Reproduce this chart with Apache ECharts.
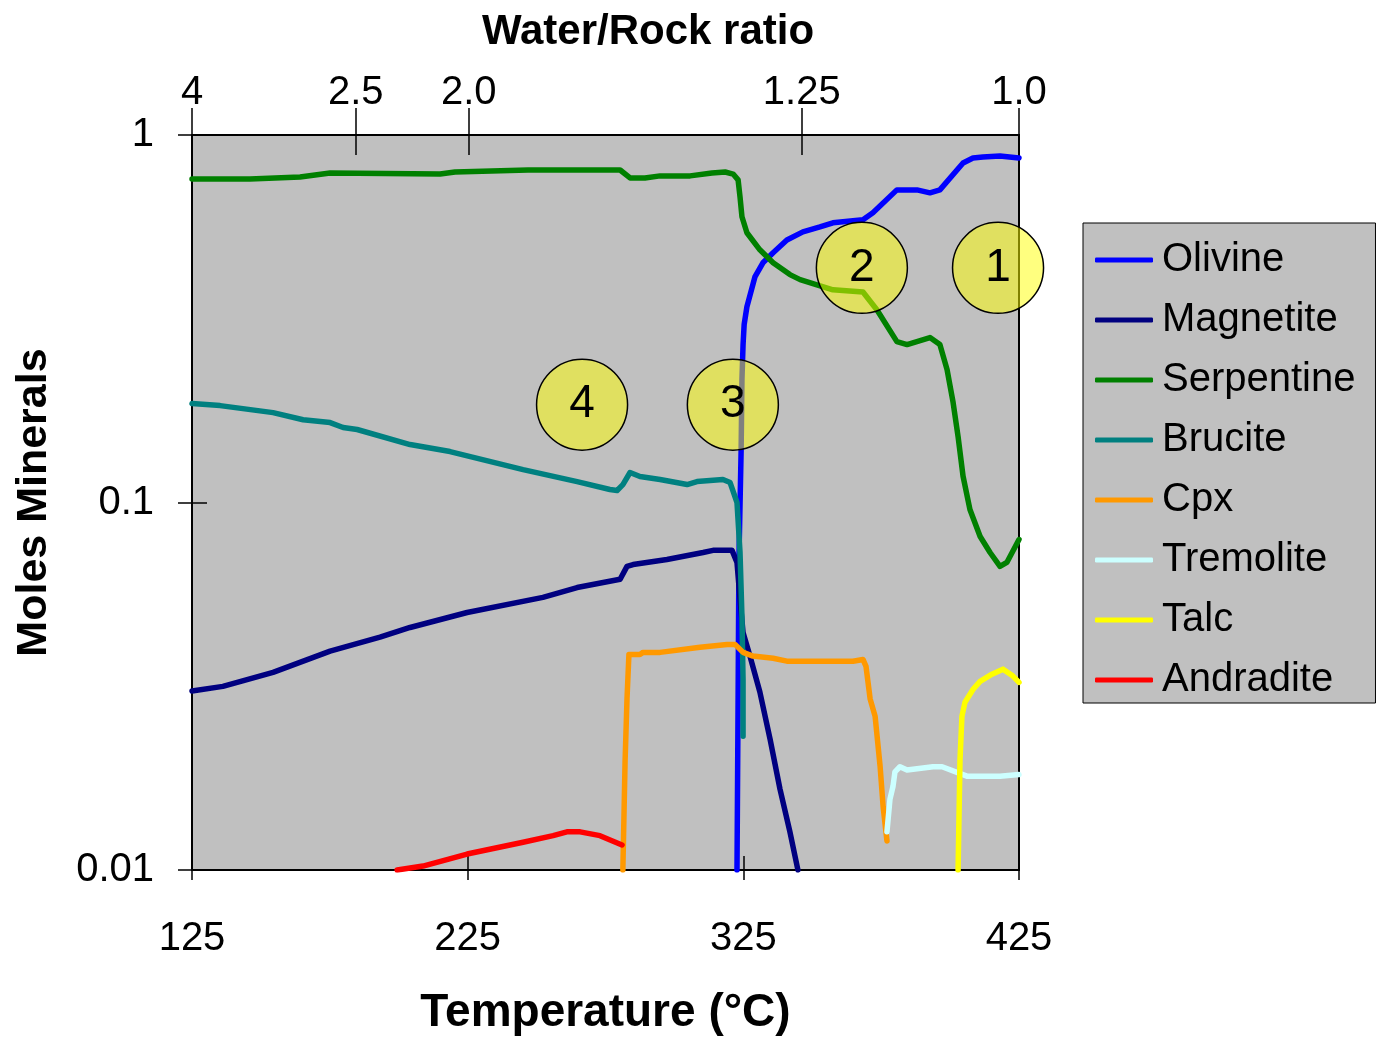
<!DOCTYPE html>
<html>
<head>
<meta charset="utf-8">
<title>Moles Minerals vs Temperature</title>
<script src="https://cdn.jsdelivr.net/npm/echarts@6/dist/echarts.min.js"></script>
<style>
  html, body { margin: 0; padding: 0; background: #ffffff; }
  #chart { width: 1379px; height: 1041px; }
</style>
</head>
<body>
<div id="chart"></div>
<script>
// Mineral abundances (moles) as [temperature °C, moles] pairs
const olivine = [
  [322.7, 0.01], [323.1, 0.0292], [323.4, 0.070], [324.2, 0.139], [324.5, 0.216],
  [324.9, 0.269], [325.3, 0.305], [326.3, 0.341], [329.2, 0.411], [332.1, 0.449],
  [335.8, 0.478], [340.8, 0.518], [346.6, 0.545], [352.8, 0.562], [357.5, 0.577],
  [368.4, 0.588], [372.0, 0.614], [380.7, 0.709], [388.0, 0.709], [392.7, 0.696],
  [396.3, 0.709], [404.7, 0.839], [408.3, 0.866], [411.9, 0.871], [418.1, 0.877],
  [425.0, 0.866]
];
const magnetite = [
  [125.0, 0.0307], [136.2, 0.0316], [154.4, 0.0345], [175.1, 0.0394], [193.2, 0.0430],
  [204.1, 0.0457], [224.8, 0.0502], [252.3, 0.0552], [264.7, 0.0587], [280.3, 0.0618],
  [282.8, 0.0670], [285.0, 0.0678], [297.3, 0.0700], [310.4, 0.0731], [314.0, 0.0741],
  [320.9, 0.0741], [322.7, 0.0687], [323.8, 0.0545], [324.9, 0.0443], [327.4, 0.0382],
  [331.0, 0.0305], [334.7, 0.0227], [338.3, 0.0166], [341.9, 0.0127], [344.8, 0.01]
];
const serpentine = [
  [125.0, 0.759], [146.0, 0.759], [164.2, 0.769], [175.1, 0.788], [215.0, 0.783],
  [220.4, 0.793], [246.9, 0.803], [280.3, 0.803], [283.9, 0.764], [289.3, 0.764],
  [294.8, 0.774], [305.7, 0.774], [313.6, 0.788], [318.4, 0.793], [321.3, 0.783],
  [323.1, 0.755], [323.8, 0.678], [324.5, 0.599], [326.3, 0.542], [331.0, 0.487],
  [335.8, 0.449], [341.9, 0.417], [345.6, 0.404], [357.5, 0.379], [368.4, 0.374],
  [373.5, 0.334], [380.7, 0.274], [384.4, 0.269], [392.7, 0.281], [396.3, 0.269],
  [398.9, 0.230], [401.1, 0.187], [402.9, 0.151], [404.7, 0.118], [407.2, 0.0957],
  [410.9, 0.0808], [414.5, 0.0731], [418.1, 0.0670], [420.6, 0.0687], [425.0, 0.0793]
];
const brucite = [
  [125.0, 0.186], [135.2, 0.1835], [154.4, 0.1756], [165.3, 0.168], [175.1, 0.165],
  [179.8, 0.160], [184.9, 0.158], [204.1, 0.1438], [218.6, 0.1376], [245.1, 0.1229],
  [264.7, 0.1140], [276.6, 0.1085], [279.2, 0.1078], [281.3, 0.1119], [283.9, 0.1207],
  [287.5, 0.1177], [294.8, 0.1155], [304.6, 0.1119], [308.2, 0.1140], [317.6, 0.1155],
  [320.2, 0.1133], [322.7, 0.100], [323.8, 0.0731], [324.5, 0.0490], [324.9, 0.0330],
  [324.9, 0.0231]
];
const cpx = [
  [281.3, 0.01], [282.1, 0.0197], [282.8, 0.0292], [283.5, 0.0386], [287.5, 0.0386],
  [288.6, 0.0391], [294.8, 0.0391], [309.3, 0.0404], [319.1, 0.0411], [322.0, 0.0411],
  [324.9, 0.0391], [328.5, 0.0382], [335.8, 0.0377], [340.8, 0.0370], [364.8, 0.0370],
  [368.4, 0.0374], [369.5, 0.0358], [371.0, 0.0292], [372.8, 0.0262], [374.6, 0.0192],
  [375.7, 0.0149], [377.1, 0.0120]
];
const tremolite = [
  [377.1, 0.0127], [378.2, 0.0156], [379.3, 0.0169], [380.0, 0.0185], [381.8, 0.0191],
  [384.4, 0.0187], [393.8, 0.0191], [397.1, 0.0191], [406.1, 0.0180], [418.1, 0.0180],
  [425.0, 0.0182]
];
const talc = [
  [402.9, 0.01], [403.6, 0.0200], [404.3, 0.0262], [405.4, 0.0286], [408.3, 0.0310],
  [410.9, 0.0326], [415.2, 0.0341], [419.2, 0.0352], [422.8, 0.0337], [425.0, 0.0324]
];
const andradite = [
  [199.4, 0.01], [208.8, 0.01025], [224.8, 0.01105], [245.1, 0.0119], [256.0, 0.0124],
  [261.0, 0.0127], [265.8, 0.0127], [273.0, 0.0124], [281.0, 0.0117]
];

// Mineral names, in legend order, and their line colours
const mineralNames = ['Olivine', 'Magnetite', 'Serpentine', 'Brucite', 'Cpx', 'Tremolite', 'Talc', 'Andradite'];
const mineralColors = ['#0000FF', '#000080', '#008000', '#008080', '#FF9900', '#CCFFFF', '#FFFF00', '#FF0000'];
const mineralData = [olivine, magnetite, serpentine, brucite, cpx, tremolite, talc, andradite];

// Temperature axis ticks
const tempTicks = [125, 225, 325, 425];
// Water/Rock ratio ticks on the upper axis, placed at their temperatures
const ratioLabels = ['4', '2.5', '2.0', '1.25', '1.0'];
const ratioTemps = [125, 184.4, 225.4, 346.2, 425];

// Numbered stage markers
const stageLabels = ['1', '2', '3', '4'];
const stageTemps = [417.4, 368.0, 321.2, 266.5];
const stageMoles = [0.435, 0.435, 0.1846, 0.1846];

const FONT = '"Liberation Sans", Arial, Helvetica, sans-serif';

const chart = echarts.init(document.getElementById('chart'), null, { renderer: 'canvas' });

const lineSeries = mineralNames.map((name, i) => ({
  name: name,
  type: 'line',
  xAxisIndex: 0,
  yAxisIndex: 0,
  data: mineralData[i],
  showSymbol: false,
  symbol: 'none',
  smooth: false,
  clip: true,
  lineStyle: { color: mineralColors[i], width: 5.5, cap: 'round', join: 'round' },
  itemStyle: { color: mineralColors[i] },
  emphasis: { disabled: true },
  z: 2
}));

const stageSeries = {
  name: 'stages',
  type: 'scatter',
  xAxisIndex: 0,
  yAxisIndex: 0,
  symbol: 'circle',
  symbolSize: 91,
  data: stageLabels.map((lab, i) => ({ name: lab, value: [stageTemps[i], stageMoles[i]] })),
  itemStyle: { color: 'rgba(255,255,0,0.5)', borderColor: '#000000', borderWidth: 1.5, opacity: 1 },
  label: {
    show: true, position: 'inside', formatter: p => p.name,
    fontFamily: FONT, fontSize: 46, color: '#000000'
  },
  emphasis: { disabled: true },
  z: 5
};

const option = {
  backgroundColor: '#ffffff',
  animation: false,
  title: {
    text: 'Water/Rock ratio',
    left: 643, top: 6, textAlign: 'center',
    textStyle: { fontFamily: FONT, fontSize: 42, fontWeight: 'bold', color: '#000000' }
  },
  grid: {
    left: 192, top: 135, right: 360, bottom: 170,
    show: true, backgroundColor: '#C0C0C0', borderColor: '#000000', borderWidth: 2
  },
  legend: {
    data: mineralNames.map(n => ({ name: n, icon: 'roundRect' })),
    orient: 'vertical',
    left: 1083, top: 223,
    padding: [17, 20, 3, 12],
    itemGap: 20,
    itemWidth: 58, itemHeight: 5,
    backgroundColor: '#C0C0C0',
    borderColor: '#000000', borderWidth: 1,
    borderRadius: 0,
    selectedMode: false,
    textStyle: { fontFamily: FONT, fontSize: 40, color: '#000000', lineHeight: 40, padding: [0, 0, 0, 4] }
  },
  xAxis: [
    {
      type: 'value', position: 'bottom', min: 125, max: 425,
      name: 'Temperature (°C)', nameLocation: 'middle', nameGap: 120,
      nameTextStyle: { fontFamily: FONT, fontSize: 46, fontWeight: 'bold', color: '#000000' },
      axisLine: { show: true, onZero: false, lineStyle: { color: '#000000', width: 2 } },
      axisTick: { show: true, inside: false, length: 10, customValues: tempTicks, lineStyle: { color: '#000000', width: 1.5 } },
      axisLabel: { show: true, customValues: tempTicks, margin: 49, fontFamily: FONT, fontSize: 40, color: '#000000' },
      splitLine: { show: false }
    },
    {
      type: 'value', position: 'top', min: 125, max: 425,
      axisLine: { show: true, onZero: false, lineStyle: { color: '#000000', width: 2 } },
      axisTick: { show: true, inside: false, length: 27, customValues: ratioTemps, lineStyle: { color: '#000000', width: 1.5 } },
      axisLabel: {
        show: true, customValues: ratioTemps, margin: 22,
        formatter: v => {
          const k = ratioTemps.findIndex(t => Math.abs(t - v) < 0.01);
          return k >= 0 ? ratioLabels[k] : '';
        },
        fontFamily: FONT, fontSize: 40, color: '#000000'
      },
      splitLine: { show: false }
    },
    {
      type: 'value', position: 'bottom', min: 125, max: 425,
      axisLine: { show: false },
      axisTick: { show: true, inside: true, length: 14, customValues: tempTicks, lineStyle: { color: '#000000', width: 1.5 } },
      axisLabel: { show: false },
      splitLine: { show: false }
    },
    {
      type: 'value', position: 'top', min: 125, max: 425,
      axisLine: { show: false },
      axisTick: { show: true, inside: true, length: 20, customValues: ratioTemps, lineStyle: { color: '#000000', width: 1.5 } },
      axisLabel: { show: false },
      splitLine: { show: false }
    }
  ],
  yAxis: [
    {
      type: 'log', logBase: 10, min: 0.01, max: 1, position: 'left',
      name: 'Moles Minerals', nameLocation: 'middle', nameGap: 136,
      nameTextStyle: { fontFamily: FONT, fontSize: 43, fontWeight: 'bold', color: '#000000' },
      axisLine: { show: true, onZero: false, lineStyle: { color: '#000000', width: 2 } },
      axisTick: { show: true, inside: false, length: 14, lineStyle: { color: '#000000', width: 1.5 } },
      axisLabel: { show: true, margin: 38, fontFamily: FONT, fontSize: 40, color: '#000000',
        formatter: v => String(Number(v.toPrecision(3))) },
      splitLine: { show: false },
      minorTick: { show: false }
    },
    {
      type: 'log', logBase: 10, min: 0.01, max: 1, position: 'left',
      axisLine: { show: false },
      axisTick: { show: true, inside: true, length: 15, lineStyle: { color: '#000000', width: 1.5 } },
      axisLabel: { show: false },
      splitLine: { show: false }
    }
  ],
  series: lineSeries.concat([stageSeries])
};

chart.setOption(option);
</script>
</body>
</html>
